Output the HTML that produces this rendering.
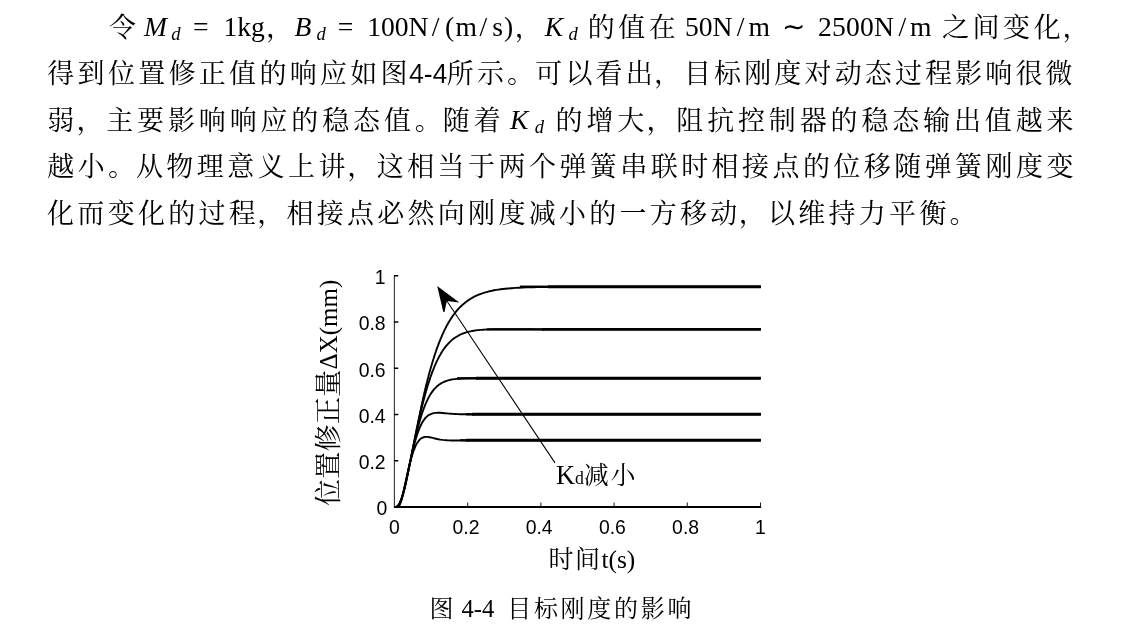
<!DOCTYPE html>
<html lang="zh-CN">
<head>
<meta charset="utf-8">
<title>图 4-4 目标刚度的影响</title>
<style>
html,body{margin:0;padding:0;background:#fff;}
body{width:1143px;height:639px;overflow:hidden;position:relative;font-family:"Liberation Serif",serif;color:#000;}
#page{position:absolute;left:0;top:0;width:1143px;height:639px;display:block;will-change:transform;}
#page text{fill:#000;}
.s{font-family:"Liberation Serif",serif;}
.i{font-family:"Liberation Serif",serif;font-style:italic;}
.a{font-family:"Liberation Sans",sans-serif;}
.c{font-family:"Liberation Serif","Noto Serif CJK SC",serif;}
.k{stroke:#000;}
/* selectable text layer */
.tl{position:absolute;margin:0;padding:0;width:1030px;height:30px;line-height:30px;font-size:27px;font-family:"Liberation Serif",serif;color:transparent;white-space:nowrap;overflow:hidden;}
</style>
</head>
<body>
<svg id="page" width="1143" height="639" viewBox="0 0 1143 639" role="img" aria-label="论文段落与图 4-4 目标刚度的影响">
<g id="l1">
<text class="c" x="109.10" y="36.50" font-size="27">令</text>
<text class="i" x="144.10" y="35.80" font-size="27.6">M</text>
<text class="i" x="171.19" y="39.80" font-size="18.6">d</text>
<text class="s" x="193.00" y="35.80" font-size="27.6">=</text>
<text class="s" x="223.40" y="35.80" font-size="27.6">1kg</text>
<text class="c" x="266.00" y="36.50" font-size="27">，</text>
<text class="i" x="294.59" y="35.80" font-size="27.6">B</text>
<text class="i" x="316.49" y="39.80" font-size="18.6">d</text>
<text class="s" x="337.80" y="35.80" font-size="27.6">=</text>
<text class="s" x="367.20" y="35.80" font-size="27.6">100N</text>
<text class="s" x="431.80" y="35.80" font-size="27.6">/</text>
<text class="s" x="445.00" y="35.80" font-size="27.6">(</text>
<text class="s" x="455.60" y="35.80" font-size="27.6">m</text>
<text class="s" x="479.40" y="35.80" font-size="27.6">/</text>
<text class="s" x="492.20" y="35.80" font-size="27.6">s</text>
<text class="s" x="504.00" y="35.80" font-size="27.6">)</text>
<text class="c" x="514.80" y="36.50" font-size="27">，</text>
<text class="i" x="544.68" y="35.80" font-size="27.6">K</text>
<text class="i" x="568.49" y="39.80" font-size="18.6">d</text>
<text class="c" x="587.70 618.20 648.70" y="36.50" font-size="27">的值在</text>
<text class="s" x="685.00" y="35.80" font-size="27.6">50N</text>
<text class="s" x="736.80" y="35.80" font-size="27.6">/</text>
<text class="s" x="748.40" y="35.80" font-size="27.6">m</text>
<text class="s" x="782.00" y="35.80" font-size="27.6">∼</text>
<text class="s" x="817.90" y="35.80" font-size="27.6" letter-spacing="0.2">2500N</text>
<text class="s" x="898.50" y="35.80" font-size="27.6">/</text>
<text class="s" x="910.00" y="35.80" font-size="27.6">m</text>
<text class="c" x="941.90 972.50 1003.10 1033.70 1062.60" y="36.50" font-size="27">之间变化，</text>
</g>
<g id="l2">
<text class="c" x="47.30 77.60 107.90 138.20 168.50 198.80 229.10 259.40 289.70 320.00 350.30 380.60" y="83.10" font-size="27">得到位置修正值的响应如图</text>
<text class="a" x="409.00" y="82.70" font-size="26.8" letter-spacing="-0.2" stroke="#fff" stroke-width="0.15">4-4</text>
<text class="c" x="446.80 476.93 507.00 535.26 565.39 595.52 625.65 654.08 683.98 714.11 744.24 774.37 804.50 834.63 864.76 894.89 925.02 955.15 985.28 1015.41 1045.54" y="83.10" font-size="27">所示。可以看出，目标刚度对动态过程影响很微</text>
</g>
<g id="l3">
<text class="c" x="47.30 76.45 106.25 137.10 167.95 198.80 229.65 260.50 291.35 322.20 353.05 383.90 414.70 442.85 473.70" y="129.70" font-size="27">弱，主要影响响应的稳态值。随着</text>
<text class="i" x="509.98" y="129.20" font-size="27.6">K</text>
<text class="i" x="534.79" y="133.20" font-size="18.6">d</text>
<text class="c" x="555.60 586.45 617.30 646.45 676.30 707.15 738.00 768.85 799.70 830.55 861.40 892.25 923.10 953.95 984.80 1015.65 1046.50" y="129.70" font-size="27">的增大，阻抗控制器的稳态输出值越来</text>
</g>
<g id="l4">
<text class="c" x="47.30 77.74 108.10 135.92 166.36 196.80 227.24 257.68 288.12 318.56 347.30 376.74 407.18 437.62 468.06 498.50 528.94 559.38 589.82 620.26 650.70 681.14 711.58 742.02 772.46 802.90 833.34 863.78 894.22 924.66 955.10 985.54 1015.98 1046.42" y="176.30" font-size="27">越小。从物理意义上讲，这相当于两个弹簧串联时相接点的位移随弹簧刚度变</text>
</g>
<g id="l5">
<text class="c" x="47.10 77.37 107.64 137.91 168.18 198.45 228.72 257.29 286.49 316.76 347.03 377.30 407.57 437.84 468.11 498.38 528.65 558.92 589.19 619.46 649.73 680.00 710.27 738.84 768.04 798.31 828.58 858.85 889.12 919.39 949.60" y="222.90" font-size="27">化而变化的过程，相接点必然向刚度减小的一方移动，以维持力平衡。</text>
</g>
<g id="chart">
<path d="M394.4 275.3V507.0" stroke="#333" stroke-width="1.1" fill="none"/>
<path d="M393.9 507.0H761.1" class="k" stroke-width="2"/>
<path d="M394.0 460.7h4.3M394.0 414.5h4.3M394.0 368.2h4.3M394.0 322.0h4.3M394.0 275.7h4.3" class="k" stroke-width="1.5"/>
<path d="M467.7 507.0v-4.6M540.9 507.0v-4.6M614.1 507.0v-4.6M687.3 507.0v-4.6M760.5 507.0v-4.6" stroke="#222" stroke-width="1.05"/>
<text class="a" x="387.40" y="515.30" font-size="19.4" text-anchor="end">0</text>
<text class="a" x="394.30" y="533.90" font-size="19.4" text-anchor="middle">0</text>
<text class="a" x="385.60" y="469.04" font-size="19.4" text-anchor="end">0.2</text>
<text class="a" x="466.00" y="533.90" font-size="19.4" text-anchor="middle">0.2</text>
<text class="a" x="385.60" y="422.78" font-size="19.4" text-anchor="end">0.4</text>
<text class="a" x="539.20" y="533.90" font-size="19.4" text-anchor="middle">0.4</text>
<text class="a" x="385.60" y="376.52" font-size="19.4" text-anchor="end">0.6</text>
<text class="a" x="612.40" y="533.90" font-size="19.4" text-anchor="middle">0.6</text>
<text class="a" x="385.60" y="330.26" font-size="19.4" text-anchor="end">0.8</text>
<text class="a" x="685.60" y="533.90" font-size="19.4" text-anchor="middle">0.8</text>
<text class="a" x="385.60" y="284.00" font-size="19.4" text-anchor="end">1</text>
<text class="a" x="760.50" y="533.90" font-size="19.4" text-anchor="middle">1</text>
<path d="M394.5 507.0L396.7 506.6L398.2 505.3L399.3 503.7L400.0 502.3L400.7 500.6L401.5 498.6L402.2 496.5L402.9 494.1L403.3 492.8L403.7 491.5L404.0 490.1L404.4 488.7L404.7 487.3L405.1 485.8L405.5 484.2L405.8 482.7L406.2 481.1L406.6 479.4L406.9 477.8L407.3 476.1L407.7 474.4L408.0 472.6L408.4 470.9L408.8 469.1L409.1 467.3L409.5 465.5L409.9 463.7L410.2 461.9L410.6 460.0L411.0 458.2L411.3 456.3L411.7 454.4L412.1 452.6L412.4 450.7L412.8 448.8L413.2 446.9L413.5 445.1L413.9 443.2L414.3 441.3L414.6 439.4L415.0 437.6L415.4 435.7L415.7 433.8L416.1 432.0L416.5 430.1L416.8 428.3L417.2 426.5L417.6 424.6L417.9 422.8L418.3 421.0L418.7 419.2L419.0 417.4L419.4 415.7L419.8 413.9L420.1 412.2L420.5 410.4L420.9 408.7L421.2 407.0L421.6 405.3L422.0 403.6L422.3 402.0L422.7 400.3L423.0 398.7L423.4 397.0L423.8 395.4L424.1 393.9L424.5 392.3L424.9 390.7L425.2 389.2L425.6 387.7L426.0 386.1L426.3 384.6L426.7 383.2L427.1 381.7L427.4 380.3L427.8 378.8L428.2 377.4L428.5 376.0L428.9 374.6L429.3 373.3L429.6 371.9L430.0 370.6L430.4 369.3L430.7 368.0L431.1 366.7L431.5 365.5L431.8 364.2L432.2 363.0L432.6 361.8L432.9 360.6L433.7 358.2L434.4 355.9L435.1 353.7L435.9 351.5L436.6 349.4L437.3 347.4L438.1 345.4L438.8 343.4L439.5 341.6L440.3 339.7L441.0 338.0L441.7 336.3L442.4 334.6L443.2 333.0L443.9 331.4L444.6 329.9L445.4 328.4L446.1 327.0L446.8 325.6L447.6 324.3L448.3 323.0L449.0 321.7L449.8 320.5L450.9 318.8L452.0 317.1L453.1 315.5L454.2 314.0L455.3 312.6L456.4 311.2L457.5 310.0L458.6 308.7L460.0 307.2L461.5 305.8L462.9 304.4L464.4 303.2L466.2 301.7L468.1 300.4L469.9 299.2L472.1 297.9L474.3 296.7L476.5 295.6L478.7 294.7L480.9 293.8L483.1 293.1L485.3 292.4L487.5 291.8L489.7 291.2L491.9 290.8L494.1 290.3L496.2 289.9L498.4 289.6L500.6 289.3L502.8 289.0L508.0 288.5L511.6 288.2L515.3 287.9L518.9 287.7L522.6 287.5L526.3 287.4L529.9 287.3L533.6 287.2L537.2 287.1L540.9 287.0L544.6 287.0L548.2 286.9L551.9 286.9L555.5 286.8L559.2 286.8L562.9 286.8L566.5 286.8L570.2 286.8L573.8 286.8L577.5 286.7L581.2 286.7L584.8 286.7L588.5 286.7L592.1 286.7L595.8 286.7L599.5 286.7L603.1 286.7L606.8 286.7L610.4 286.7L614.1 286.7L617.8 286.7L621.4 286.7L625.1 286.7L628.7 286.7L632.4 286.7L636.1 286.7L639.7 286.7L643.4 286.7L647.0 286.7L650.7 286.7L654.4 286.7L658.0 286.7L661.7 286.7L665.3 286.7L669.0 286.7L672.7 286.7L676.3 286.7L680.0 286.7L683.6 286.7L687.3 286.7L691.0 286.7L694.6 286.7L698.3 286.7L701.9 286.7L705.6 286.7L709.3 286.7L712.9 286.7L716.6 286.7L720.2 286.7L723.9 286.7L727.6 286.7L731.2 286.7L734.9 286.7L738.5 286.7L742.2 286.7L745.9 286.7L749.5 286.7L753.2 286.7L756.8 286.7L760.5 286.7L760.8 286.7" class="k" fill="none" stroke-width="1.9" stroke-linejoin="round"/>
<path d="M520 286.7H550" class="k" stroke-width="2.3"/>
<path d="M548 286.7H760.9" class="k" stroke-width="2.9"/>
<path d="M394.5 507.0L396.8 506.9L398.6 505.4L399.7 503.6L400.4 501.9L401.2 500.0L401.9 497.8L402.6 495.4L403.0 494.1L403.4 492.8L403.7 491.4L404.1 489.9L404.5 488.4L404.8 486.9L405.2 485.4L405.6 483.8L405.9 482.2L406.3 480.5L406.6 478.8L407.0 477.1L407.4 475.4L407.7 473.7L408.1 471.9L408.5 470.2L408.8 468.4L409.2 466.6L409.6 464.8L409.9 463.0L410.3 461.2L410.7 459.4L411.0 457.5L411.4 455.7L411.8 453.9L412.1 452.1L412.5 450.3L412.9 448.5L413.2 446.6L413.6 444.8L414.0 443.0L414.3 441.2L414.7 439.5L415.1 437.7L415.4 435.9L415.8 434.2L416.2 432.4L416.5 430.7L416.9 429.0L417.3 427.3L417.6 425.6L418.0 423.9L418.4 422.2L418.7 420.6L419.1 419.0L419.5 417.3L419.8 415.7L420.2 414.2L420.6 412.6L420.9 411.0L421.3 409.5L421.7 408.0L422.0 406.5L422.4 405.0L422.8 403.6L423.1 402.1L423.5 400.7L423.9 399.3L424.2 397.9L424.6 396.5L424.9 395.2L425.3 393.9L425.7 392.6L426.0 391.3L426.4 390.0L426.8 388.7L427.1 387.5L427.5 386.3L428.2 383.9L429.0 381.6L429.7 379.4L430.4 377.2L431.2 375.1L431.9 373.1L432.6 371.2L433.4 369.3L434.1 367.5L434.8 365.7L435.6 364.0L436.3 362.4L437.0 360.9L437.8 359.4L438.5 357.9L439.2 356.5L440.0 355.2L440.7 353.9L441.4 352.7L442.5 351.0L443.6 349.3L444.7 347.8L445.8 346.4L446.9 345.1L448.0 343.8L449.5 342.3L450.9 340.9L452.4 339.6L454.2 338.2L456.1 337.0L458.3 335.7L460.5 334.5L462.6 333.6L464.8 332.8L467.0 332.1L469.2 331.6L471.4 331.1L473.6 330.7L475.8 330.4L478.0 330.1L480.2 329.9L482.4 329.8L484.6 329.6L486.8 329.5L489.0 329.4L491.2 329.4L493.4 329.3L495.6 329.3L497.8 329.3L500.0 329.3L502.2 329.3L504.4 329.3L509.1 329.3L512.8 329.3L516.4 329.3L520.1 329.3L523.8 329.3L527.4 329.3L531.1 329.3L534.7 329.4L538.4 329.4L542.1 329.4L545.7 329.4L549.4 329.4L553.0 329.4L556.7 329.4L560.4 329.4L564.0 329.4L567.7 329.4L571.3 329.4L575.0 329.4L578.7 329.4L582.3 329.4L586.0 329.4L589.6 329.4L593.3 329.4L597.0 329.4L600.6 329.4L604.3 329.4L607.9 329.4L611.6 329.4L615.3 329.4L618.9 329.4L622.6 329.4L626.2 329.4L629.9 329.4L633.6 329.4L637.2 329.4L640.9 329.4L644.5 329.4L648.2 329.4L651.9 329.4L655.5 329.4L659.2 329.4L662.8 329.4L666.5 329.4L670.2 329.4L673.8 329.4L677.5 329.4L681.1 329.4L684.8 329.4L688.5 329.4L692.1 329.4L695.8 329.4L699.4 329.4L703.1 329.4L706.8 329.4L710.4 329.4L714.1 329.4L717.7 329.4L721.4 329.4L725.1 329.4L728.7 329.4L732.4 329.4L736.0 329.4L739.7 329.4L743.4 329.4L747.0 329.4L750.7 329.4L754.3 329.4L758.0 329.4L760.8 329.4" class="k" fill="none" stroke-width="1.9" stroke-linejoin="round"/>
<path d="M487 329.4H544" class="k" stroke-width="2.3"/>
<path d="M542 329.4H760.9" class="k" stroke-width="2.9"/>
<path d="M394.5 507.0L396.8 506.7L398.6 505.1L399.7 503.2L400.5 501.6L401.2 499.7L401.9 497.5L402.7 495.1L403.0 493.8L403.4 492.5L403.8 491.1L404.1 489.6L404.5 488.1L404.9 486.6L405.2 485.0L405.6 483.4L406.0 481.8L406.3 480.1L406.7 478.4L407.1 476.7L407.4 475.0L407.8 473.3L408.2 471.5L408.5 469.8L408.9 468.0L409.3 466.2L409.6 464.5L410.0 462.7L410.4 460.9L410.7 459.1L411.1 457.4L411.5 455.6L411.8 453.9L412.2 452.2L412.6 450.5L412.9 448.7L413.3 447.1L413.7 445.4L414.0 443.7L414.4 442.1L414.8 440.5L415.1 438.9L415.5 437.3L415.8 435.8L416.2 434.3L416.6 432.8L416.9 431.3L417.3 429.8L417.7 428.4L418.0 427.0L418.4 425.6L418.8 424.3L419.1 423.0L419.5 421.7L419.9 420.4L420.2 419.2L420.6 417.9L421.3 415.6L422.1 413.3L422.8 411.2L423.5 409.1L424.3 407.2L425.0 405.3L425.7 403.6L426.5 401.9L427.2 400.3L427.9 398.9L428.7 397.4L429.4 396.1L430.1 394.9L431.2 393.1L432.3 391.6L433.4 390.1L434.5 388.8L436.0 387.3L437.4 385.9L439.3 384.5L441.5 383.1L443.7 382.0L445.9 381.1L448.1 380.4L450.3 379.8L452.4 379.4L454.6 379.1L456.8 378.9L459.0 378.7L461.2 378.6L463.4 378.5L465.6 378.4L467.8 378.3L470.0 378.3L472.2 378.3L474.4 378.3L476.6 378.3L478.8 378.3L481.0 378.3L483.2 378.3L485.4 378.3L487.6 378.3L489.8 378.3L492.0 378.3L494.2 378.3L496.4 378.3L498.6 378.3L500.8 378.3L503.0 378.3L508.4 378.3L512.1 378.3L515.8 378.3L519.4 378.3L523.1 378.3L526.7 378.3L530.4 378.3L534.1 378.3L537.7 378.3L541.4 378.3L545.0 378.3L548.7 378.3L552.4 378.3L556.0 378.3L559.7 378.3L563.3 378.3L567.0 378.3L570.7 378.3L574.3 378.3L578.0 378.3L581.6 378.3L585.3 378.3L589.0 378.3L592.6 378.3L596.3 378.3L599.9 378.3L603.6 378.3L607.3 378.3L610.9 378.3L614.6 378.3L618.2 378.3L621.9 378.3L625.6 378.3L629.2 378.3L632.9 378.3L636.5 378.3L640.2 378.3L643.9 378.3L647.5 378.3L651.2 378.3L654.8 378.3L658.5 378.3L662.2 378.3L665.8 378.3L669.5 378.3L673.1 378.3L676.8 378.3L680.5 378.3L684.1 378.3L687.8 378.3L691.4 378.3L695.1 378.3L698.8 378.3L702.4 378.3L706.1 378.3L709.7 378.3L713.4 378.3L717.1 378.3L720.7 378.3L724.4 378.3L728.0 378.3L731.7 378.3L735.4 378.3L739.0 378.3L742.7 378.3L746.3 378.3L750.0 378.3L753.7 378.3L757.3 378.3L760.8 378.3" class="k" fill="none" stroke-width="1.9" stroke-linejoin="round"/>
<path d="M457 378.3H478" class="k" stroke-width="2.3"/>
<path d="M476 378.3H760.9" class="k" stroke-width="2.9"/>
<path d="M394.5 507.0L396.7 506.9L398.5 505.7L399.6 504.0L400.3 502.5L401.1 500.6L401.8 498.4L402.2 497.2L402.5 495.9L402.9 494.6L403.3 493.2L403.6 491.8L404.0 490.3L404.4 488.7L404.7 487.1L405.1 485.5L405.5 483.9L405.8 482.2L406.2 480.5L406.5 478.8L406.9 477.1L407.3 475.3L407.6 473.6L408.0 471.9L408.4 470.1L408.7 468.4L409.1 466.6L409.5 464.9L409.8 463.2L410.2 461.5L410.6 459.9L410.9 458.2L411.3 456.6L411.7 455.0L412.0 453.4L412.4 451.8L412.8 450.3L413.1 448.8L413.5 447.3L413.9 445.9L414.2 444.5L414.6 443.1L415.0 441.8L415.3 440.5L415.7 439.2L416.1 438.0L416.8 435.7L417.5 433.5L418.3 431.4L419.0 429.5L419.7 427.7L420.5 426.0L421.2 424.5L421.9 423.1L422.7 421.8L423.8 420.1L424.8 418.7L425.9 417.4L427.4 416.1L429.2 414.8L431.4 413.8L433.6 413.1L435.8 412.9L438.0 412.8L440.2 412.8L442.4 413.0L444.6 413.2L446.8 413.4L449.0 413.6L451.2 413.7L453.4 413.9L455.6 414.0L457.8 414.1L460.0 414.2L462.2 414.2L464.4 414.3L466.6 414.3L468.8 414.3L471.0 414.3L473.2 414.3L475.4 414.3L477.6 414.3L479.7 414.3L481.9 414.3L484.1 414.3L486.3 414.3L488.5 414.3L490.7 414.3L492.9 414.3L495.1 414.3L497.3 414.3L499.5 414.3L501.7 414.3L503.9 414.3L509.0 414.3L512.7 414.3L516.3 414.3L520.0 414.3L523.7 414.3L527.3 414.3L531.0 414.3L534.6 414.3L538.3 414.3L542.0 414.3L545.6 414.3L549.3 414.3L552.9 414.3L556.6 414.3L560.3 414.3L563.9 414.3L567.6 414.3L571.2 414.3L574.9 414.3L578.6 414.3L582.2 414.3L585.9 414.3L589.5 414.3L593.2 414.3L596.9 414.3L600.5 414.3L604.2 414.3L607.8 414.3L611.5 414.3L615.2 414.3L618.8 414.3L622.5 414.3L626.1 414.3L629.8 414.3L633.5 414.3L637.1 414.3L640.8 414.3L644.4 414.3L648.1 414.3L651.8 414.3L655.4 414.3L659.1 414.3L662.7 414.3L666.4 414.3L670.1 414.3L673.7 414.3L677.4 414.3L681.0 414.3L684.7 414.3L688.4 414.3L692.0 414.3L695.7 414.3L699.3 414.3L703.0 414.3L706.7 414.3L710.3 414.3L714.0 414.3L717.6 414.3L721.3 414.3L725.0 414.3L728.6 414.3L732.3 414.3L735.9 414.3L739.6 414.3L743.3 414.3L746.9 414.3L750.6 414.3L754.2 414.3L757.9 414.3L760.8 414.3" class="k" fill="none" stroke-width="1.9" stroke-linejoin="round"/>
<path d="M466 414.3H474" class="k" stroke-width="2.3"/>
<path d="M472 414.3H760.9" class="k" stroke-width="2.9"/>
<path d="M394.5 507.0L397.3 507.0L399.5 505.3L400.2 503.7L401.0 501.6L401.3 500.4L401.7 499.2L402.1 497.8L402.4 496.3L402.8 494.8L403.2 493.3L403.5 491.7L403.9 490.0L404.3 488.4L404.6 486.7L405.0 485.0L405.4 483.2L405.7 481.5L406.1 479.8L406.5 478.1L406.8 476.4L407.2 474.7L407.6 473.1L407.9 471.4L408.3 469.8L408.7 468.2L409.0 466.7L409.4 465.2L409.8 463.7L410.1 462.3L410.5 460.9L410.9 459.5L411.2 458.2L411.6 456.9L412.0 455.7L412.7 453.4L413.4 451.2L414.2 449.3L414.9 447.5L415.6 445.9L416.3 444.4L417.1 443.1L418.2 441.5L419.3 440.1L420.7 438.7L422.9 437.5L425.1 436.9L427.3 436.9L429.5 437.2L431.7 437.6L433.9 438.2L436.1 438.7L438.3 439.2L440.5 439.6L442.7 439.9L444.9 440.1L447.1 440.3L449.3 440.4L451.5 440.5L453.7 440.5L455.9 440.5L458.1 440.5L460.3 440.4L462.5 440.4L464.7 440.4L466.9 440.4L469.1 440.3L471.2 440.3L473.4 440.3L475.6 440.3L477.8 440.3L480.0 440.3L482.2 440.3L484.4 440.3L486.6 440.3L488.8 440.3L491.0 440.3L493.2 440.3L495.4 440.3L497.6 440.3L499.8 440.3L502.0 440.3L504.2 440.3L506.4 440.3L510.8 440.3L514.4 440.3L518.1 440.3L521.8 440.3L525.4 440.3L529.1 440.3L532.7 440.3L536.4 440.3L540.1 440.3L543.7 440.3L547.4 440.3L551.0 440.3L554.7 440.3L558.4 440.3L562.0 440.3L565.7 440.3L569.3 440.3L573.0 440.3L576.7 440.3L580.3 440.3L584.0 440.3L587.6 440.3L591.3 440.3L595.0 440.3L598.6 440.3L602.3 440.3L605.9 440.3L609.6 440.3L613.3 440.3L616.9 440.3L620.6 440.3L624.2 440.3L627.9 440.3L631.6 440.3L635.2 440.3L638.9 440.3L642.5 440.3L646.2 440.3L649.9 440.3L653.5 440.3L657.2 440.3L660.8 440.3L664.5 440.3L668.2 440.3L671.8 440.3L675.5 440.3L679.1 440.3L682.8 440.3L686.5 440.3L690.1 440.3L693.8 440.3L697.4 440.3L701.1 440.3L704.8 440.3L708.4 440.3L712.1 440.3L715.7 440.3L719.4 440.3L723.1 440.3L726.7 440.3L730.4 440.3L734.0 440.3L737.7 440.3L741.4 440.3L745.0 440.3L748.7 440.3L752.3 440.3L756.0 440.3L759.7 440.3L760.8 440.3" class="k" fill="none" stroke-width="1.9" stroke-linejoin="round"/>
<path d="M460 440.3H468" class="k" stroke-width="2.3"/>
<path d="M466 440.3H760.9" class="k" stroke-width="2.9"/>
<path d="M555 462.9L446.4 300.3" class="k" stroke-width="1.05"/>
<path d="M437.2 285.9L459.3 302.5Q452.5 301.6 446.9 300.9Q445.6 306 444.6 311.9L443.2 311.8Z" fill="#000"/>
<text class="s" x="556.00" y="483.90" font-size="26.4">K</text>
<text class="s" x="575.00" y="483.90" font-size="17.8">d</text>
<text class="c" x="583.80 610.40" y="484.30" font-size="25">减小</text>
<text class="c" x="548.40 575.00" y="567.50" font-size="25">时间</text>
<text class="s" x="601.40" y="567.70" font-size="25.4">t(s)</text>
<g transform="translate(0 507) rotate(-90)">
<text class="c" x="1.00 28.30 55.60 82.90 110.20" y="337.60" font-size="27">位置修正量</text>
<text class="s" x="137.60" y="337.00" font-size="25">ΔX(mm)</text>
</g>
</g>
<g id="cap">
<text class="c" x="429.40" y="616.90" font-size="24">图</text>
<text class="s" x="461.40" y="616.80" font-size="24.6">4-4</text>
<text class="c" x="507.20 533.90 560.60 587.30 614.00 640.70 667.40" y="616.90" font-size="24">目标刚度的影响</text>
</g>
</svg>
<p class="tl" style="left:108px;top:9px">令 Md = 1kg，Bd = 100N/(m/s)，Kd 的值在 50N/m ∼ 2500N/m 之间变化，</p>
<p class="tl" style="left:47px;top:55px">得到位置修正值的响应如图4-4所示。可以看出，目标刚度对动态过程影响很微</p>
<p class="tl" style="left:47px;top:102px">弱，主要影响响应的稳态值。随着 Kd 的增大，阻抗控制器的稳态输出值越来</p>
<p class="tl" style="left:47px;top:149px">越小。从物理意义上讲，这相当于两个弹簧串联时相接点的位移随弹簧刚度变</p>
<p class="tl" style="left:47px;top:195px">化而变化的过程，相接点必然向刚度减小的一方移动，以维持力平衡。</p>
<p class="tl" style="left:316px;top:494px;width:230px;font-size:25px;transform-origin:0 0;transform:rotate(-90deg) translate(-12px,-4px)">位置修正量ΔX(mm)</p>
<p class="tl" style="left:556px;top:461px;width:90px;font-size:25px">Kd减小</p>
<p class="tl" style="left:549px;top:545px;width:90px;font-size:25px">时间t(s)</p>
<p class="tl" style="left:430px;top:596px;width:264px;font-size:24px">图 4-4 目标刚度的影响</p>
</body>
</html>
